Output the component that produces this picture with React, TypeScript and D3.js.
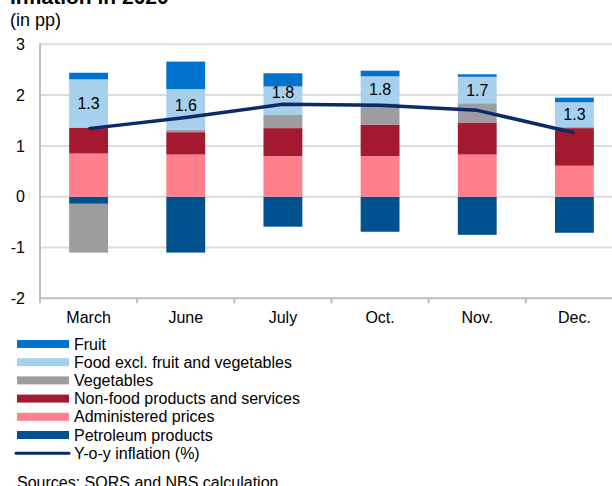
import React from "react";
import * as d3 from "d3";

const categories = ["March", "June", "July", "Oct.", "Nov.", "Dec."];
const petroleum = [-0.14, -1.1, -0.59, -0.69, -0.75, -0.71];
const administered = [0.85, 0.83, 0.8, 0.8, 0.83, 0.61];
const nonFood = [0.51, 0.44, 0.55, 0.62, 0.63, 0.74];
const vegetables = [-0.96, 0.05, 0.26, 0.42, 0.38, 0.02];
const foodExcl = [0.95, 0.8, 0.56, 0.53, 0.52, 0.49];
const fruit = [0.13, 0.54, 0.26, 0.11, 0.05, 0.09];
const yoy = [1.34, 1.56, 1.82, 1.8, 1.7, 1.26];
const yTicks = [-2, -1, 0, 1, 2, 3];

const seriesDefs = [
  { key: "petroleum", name: "Petroleum products", values: petroleum, color: "#00528f" },
  { key: "administered", name: "Administered prices", values: administered, color: "#ff808c" },
  { key: "nonFood", name: "Non-food products and services", values: nonFood, color: "#a51930" },
  { key: "vegetables", name: "Vegetables", values: vegetables, color: "#9d9d9f" },
  { key: "foodExcl", name: "Food excl. fruit and vegetables", values: foodExcl, color: "#a6d0ec" },
  { key: "fruit", name: "Fruit", values: fruit, color: "#0073cf" },
];
const legendOrder = ["fruit", "foodExcl", "vegetables", "nonFood", "administered", "petroleum"];

const FONT = "'Liberation Sans', Arial, sans-serif";

export default function App() {
  const W = 612, H = 486;
  const left = 40, right = 623, top = 44.3, bottom = 298.3;
  const x = d3.scaleBand<string>().domain(categories).range([left, right]).paddingInner(0.6).paddingOuter(0.3);
  const xOuter = d3.scaleBand<string>().domain(categories).range([left, right]);
  const y = d3.scaleLinear().domain([-2, 3]).range([bottom, top]);

  const table = categories.map((c, i) => {
    const row: any = { cat: c };
    seriesDefs.forEach((s) => (row[s.key] = s.values[i]));
    return row;
  });
  const stack = d3.stack<any>().keys(seriesDefs.map((s) => s.key)).offset(d3.stackOffsetDiverging);
  const stacked = stack(table);

  const line = d3
    .line<number>()
    .x((_, i) => (x(categories[i]) as number) + x.bandwidth() / 2)
    .y((d) => y(d));

  const foodLayer = stacked.find((l) => l.key === "foodExcl")!;
  const fmt = d3.format(".1f");

  return (
    <svg width={W} height={H} style={{ position: "fixed", left: 0, top: 0, background: "#fff" }} fontFamily={FONT}>
      <rect width={W} height={H} fill="#fff" />
      <text x={10} y={4} fontSize={21} fontWeight="bold" fill="#000">Inflation in 2020</text>
      <text x={10} y={26} fontSize={18} fill="#000">(in pp)</text>

      {/* gridlines */}
      {yTicks.map((t) => (
        <line key={t} x1={left} x2={right} y1={y(t)} y2={y(t)} stroke={t === -2 ? "#bfbfbf" : "#dcdcdc"} strokeWidth={2} />
      ))}
      {/* y axis */}
      <line x1={left} x2={left} y1={top - 1} y2={bottom + 5} stroke="#bfbfbf" strokeWidth={2} />
      {yTicks.map((t) => (
        <text key={t} x={25} y={y(t)} dy="0.35em" fontSize={16} textAnchor="end" fill="#000">{t}</text>
      ))}
      {/* x ticks */}
      {categories.map((c) => (
        <line key={c} x1={(xOuter(c) as number) + xOuter.bandwidth()} x2={(xOuter(c) as number) + xOuter.bandwidth()} y1={bottom} y2={bottom + 5} stroke="#bfbfbf" strokeWidth={2} />
      ))}
      {categories.map((c) => (
        <text key={c} x={(x(c) as number) + x.bandwidth() / 2} y={323} fontSize={16} textAnchor="middle" fill="#000">{c}</text>
      ))}

      {/* bars */}
      {stacked.map((layer) => {
        const def = seriesDefs.find((s) => s.key === layer.key)!;
        return (
          <g key={layer.key} fill={def.color}>
            {layer.map((d, i) => {
              const y0 = y(d[0]), y1 = y(d[1]);
              return (
                <rect key={i} x={x(categories[i])} width={x.bandwidth()} y={Math.min(y0, y1)} height={Math.abs(y0 - y1)} />
              );
            })}
          </g>
        );
      })}

      <path d={line(yoy) || ""} fill="none" stroke="#0b2a6a" strokeWidth={3.5} strokeLinejoin="round" />

      {yoy.map((v, i) => {
        const d = foodLayer[i];
        const cy = Math.min((y(d[0]) + y(d[1])) / 2, y(v) - 12);
        return (
          <text key={i} x={(x(categories[i]) as number) + x.bandwidth() / 2} y={cy} dy="0.35em" fontSize={16} textAnchor="middle" fill="#000">
            {fmt(v)}
          </text>
        );
      })}

      {/* legend */}
      {legendOrder.map((k, i) => {
        const def = seriesDefs.find((s) => s.key === k)!;
        const cy = 344 + i * 18.2;
        return (
          <g key={k}>
            <rect x={17} y={cy - 4} width={52} height={8} fill={def.color} />
            <text x={74} y={cy} dy="0.35em" fontSize={16} fill="#000">{def.name}</text>
          </g>
        );
      })}
      <line x1={16} x2={69} y1={344 + 6 * 18.2} y2={344 + 6 * 18.2} stroke="#0b2a6a" strokeWidth={3} strokeLinecap="round" />
      <text x={74} y={344 + 6 * 18.2} dy="0.35em" fontSize={16} fill="#000">Y-o-y inflation (%)</text>

      <text x={17} y={488} fontSize={16} fill="#000">Sources: SORS and NBS calculation.</text>
    </svg>
  );
}
